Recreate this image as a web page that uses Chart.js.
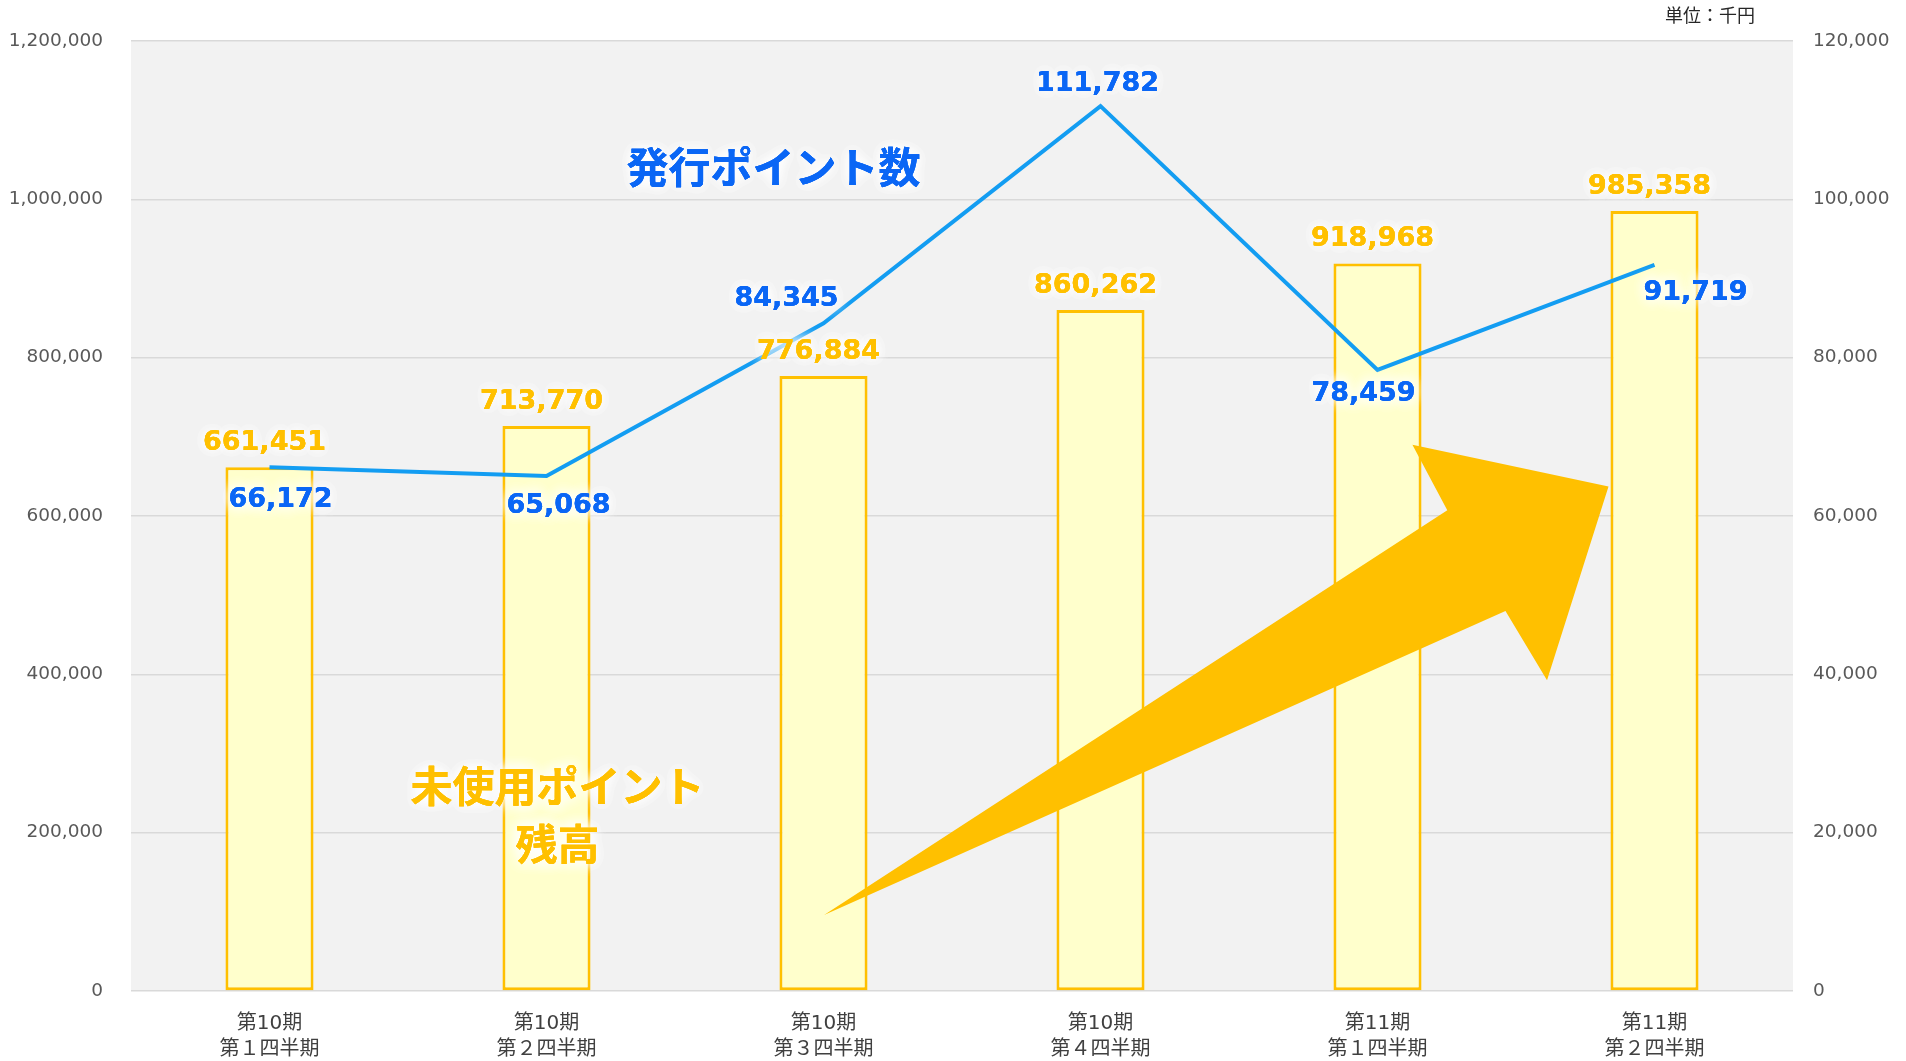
<!DOCTYPE html>
<html>
<head>
<meta charset="utf-8">
<script src="https://cdn.jsdelivr.net/npm/chart.js@4.4.1/dist/chart.umd.min.js"></script>
<style>
  html, body { margin: 0; padding: 0; background: #fff; }
  #wrap { width: 1906px; height: 1061px; position: relative; }
</style>
</head>
<body>
<div id="wrap"><canvas id="grafico"></canvas></div>
<script>
const categories = [
    ['第10期', '第１四半期'],
    ['第10期', '第２四半期'],
    ['第10期', '第３四半期'],
    ['第10期', '第４四半期'],
    ['第11期', '第１四半期'],
    ['第11期', '第２四半期']
];
const unusedPoints = [661451, 713770, 776884, 860262, 918968, 985358]; // 未使用ポイント残高
const issuedPoints = [66172, 65068, 84345, 111782, 78459, 91719];     // 発行ポイント数
const leftAxis = { min: 0, max: 1200000, step: 200000 };
const rightAxis = { min: 0, max: 120000, step: 20000 };

// desplazamiento de las etiquetas de la línea (dx, dy) respecto al punto
const lineLabelOffsets = [[11, 33], [12, 30], [-37, -24], [-3, -22], [-14, 24], [41, 28]];

const ORANGE = '#FFC000';
const BLUE_TXT = '#0A66F5';
const FONT = "'DejaVu Sans', 'Noto Sans CJK JP', sans-serif";
const JP_FONT = "'Noto Sans CJK JP', sans-serif";

function fmt(v) {
    return v.toLocaleString('en-US');
}

function glowText(ctx, text, x, y, color) {
    ctx.save();
    ctx.fillStyle = color;
    ctx.shadowColor = 'rgba(255,255,255,1)';
    ctx.shadowBlur = 14;
    for (let i = 0; i < 3; i++) ctx.fillText(text, x, y);
    ctx.shadowBlur = 0;
    ctx.fillText(text, x, y);
    ctx.restore();
}

// fondo gris del área del gráfico
const fondoPlugin = {
    id: 'fondo',
    beforeDraw(chart) {
        const { ctx, chartArea: a } = chart;
        ctx.save();
        ctx.fillStyle = '#F2F2F2';
        ctx.fillRect(a.left, a.top, a.right - a.left, a.bottom - a.top);
        ctx.restore();
    }
};

const extrasPlugin = {
    id: 'extras',
    afterDatasetsDraw(chart) {
        const { ctx, chartArea: a } = chart;
        const w = a.right - a.left, h = a.bottom - a.top;
        const px = f => a.left + f * w;
        const py = f => a.top + f * h;

        // flecha naranja
        const flecha = [[0.417, 0.920], [0.792, 0.494], [0.771, 0.425], [0.889, 0.469], [0.852, 0.673], [0.827, 0.600]];
        ctx.save();
        ctx.fillStyle = ORANGE;
        ctx.beginPath();
        flecha.forEach((p, i) => i ? ctx.lineTo(px(p[0]), py(p[1])) : ctx.moveTo(px(p[0]), py(p[1])));
        ctx.closePath();
        ctx.fill();
        ctx.restore();

        ctx.save();
        ctx.textAlign = 'center';
        ctx.textBaseline = 'middle';

        // etiquetas de barras
        ctx.font = 'bold 27px ' + FONT;
        chart.getDatasetMeta(0).data.forEach((bar, i) => {
            glowText(ctx, fmt(unusedPoints[i]), bar.x - 5, bar.y - 24, ORANGE);
        });

        // etiquetas de la línea
        chart.getDatasetMeta(1).data.forEach((pt, i) => {
            const o = lineLabelOffsets[i];
            glowText(ctx, fmt(issuedPoints[i]), pt.x + o[0], pt.y + o[1], BLUE_TXT);
        });

        // títulos de las series
        ctx.font = 'bold 42px ' + JP_FONT;
        glowText(ctx, '発行ポイント数', px(0.3866), py(0.1326), BLUE_TXT);
        glowText(ctx, '未使用ポイント', px(0.2566), py(0.784), ORANGE);
        glowText(ctx, '残高', px(0.2566), py(0.845), ORANGE);

        // unidad
        ctx.font = '18px ' + JP_FONT;
        ctx.fillStyle = '#262626';
        ctx.fillText('単位：千円', 1710, 15);
        ctx.restore();
    }
};

new Chart(document.getElementById('grafico'), {
    type: 'bar',
    data: {
        labels: categories,
        datasets: [{
            type: 'bar',
            label: '未使用ポイント残高',
            data: unusedPoints,
            yAxisID: 'y',
            backgroundColor: '#FFFFCC',
            borderColor: ORANGE,
            borderWidth: 3,
            borderSkipped: false,
            categoryPercentage: 1,
            barPercentage: 0.318,
            order: 2
        }, {
            type: 'line',
            label: '発行ポイント数',
            data: issuedPoints,
            yAxisID: 'y1',
            borderColor: '#139DF2',
            borderWidth: 4,
            pointRadius: 0,
            tension: 0,
            fill: false,
            order: 1
        }]
    },
    options: {
        responsive: true,
        maintainAspectRatio: false,
        animation: false,
        layout: { padding: { top: 41, left: 0, right: 0, bottom: 0 } },
        plugins: {
            legend: { display: false },
            tooltip: { enabled: false }
        },
        scales: {
            x: {
                grid: { display: false, drawTicks: false },
                border: { display: false },
                ticks: {
                    color: '#404040',
                    font: { family: FONT, size: 20, lineHeight: 1.3 },
                    padding: 20,
                    maxRotation: 0,
                    autoSkip: false
                },
                afterFit(scale) { scale.height = 70; }
            },
            y: {
                position: 'left',
                min: leftAxis.min,
                max: leftAxis.max,
                grid: { color: '#D9D9D9', lineWidth: 1.5, drawTicks: false },
                border: { display: false },
                ticks: {
                    stepSize: leftAxis.step,
                    color: '#595959',
                    font: { family: FONT, size: 18.5 },
                    padding: 28,
                    callback: v => fmt(v)
                },
                afterFit(scale) { scale.width = 131; }
            },
            y1: {
                position: 'right',
                min: rightAxis.min,
                max: rightAxis.max,
                grid: { display: false, drawTicks: false },
                border: { display: false },
                ticks: {
                    stepSize: rightAxis.step,
                    color: '#595959',
                    font: { family: FONT, size: 18.5 },
                    padding: 20,
                    callback: v => fmt(v)
                },
                afterFit(scale) { scale.width = 113; }
            }
        }
    },
    plugins: [fondoPlugin, extrasPlugin]
});
</script>
</body>
</html>
